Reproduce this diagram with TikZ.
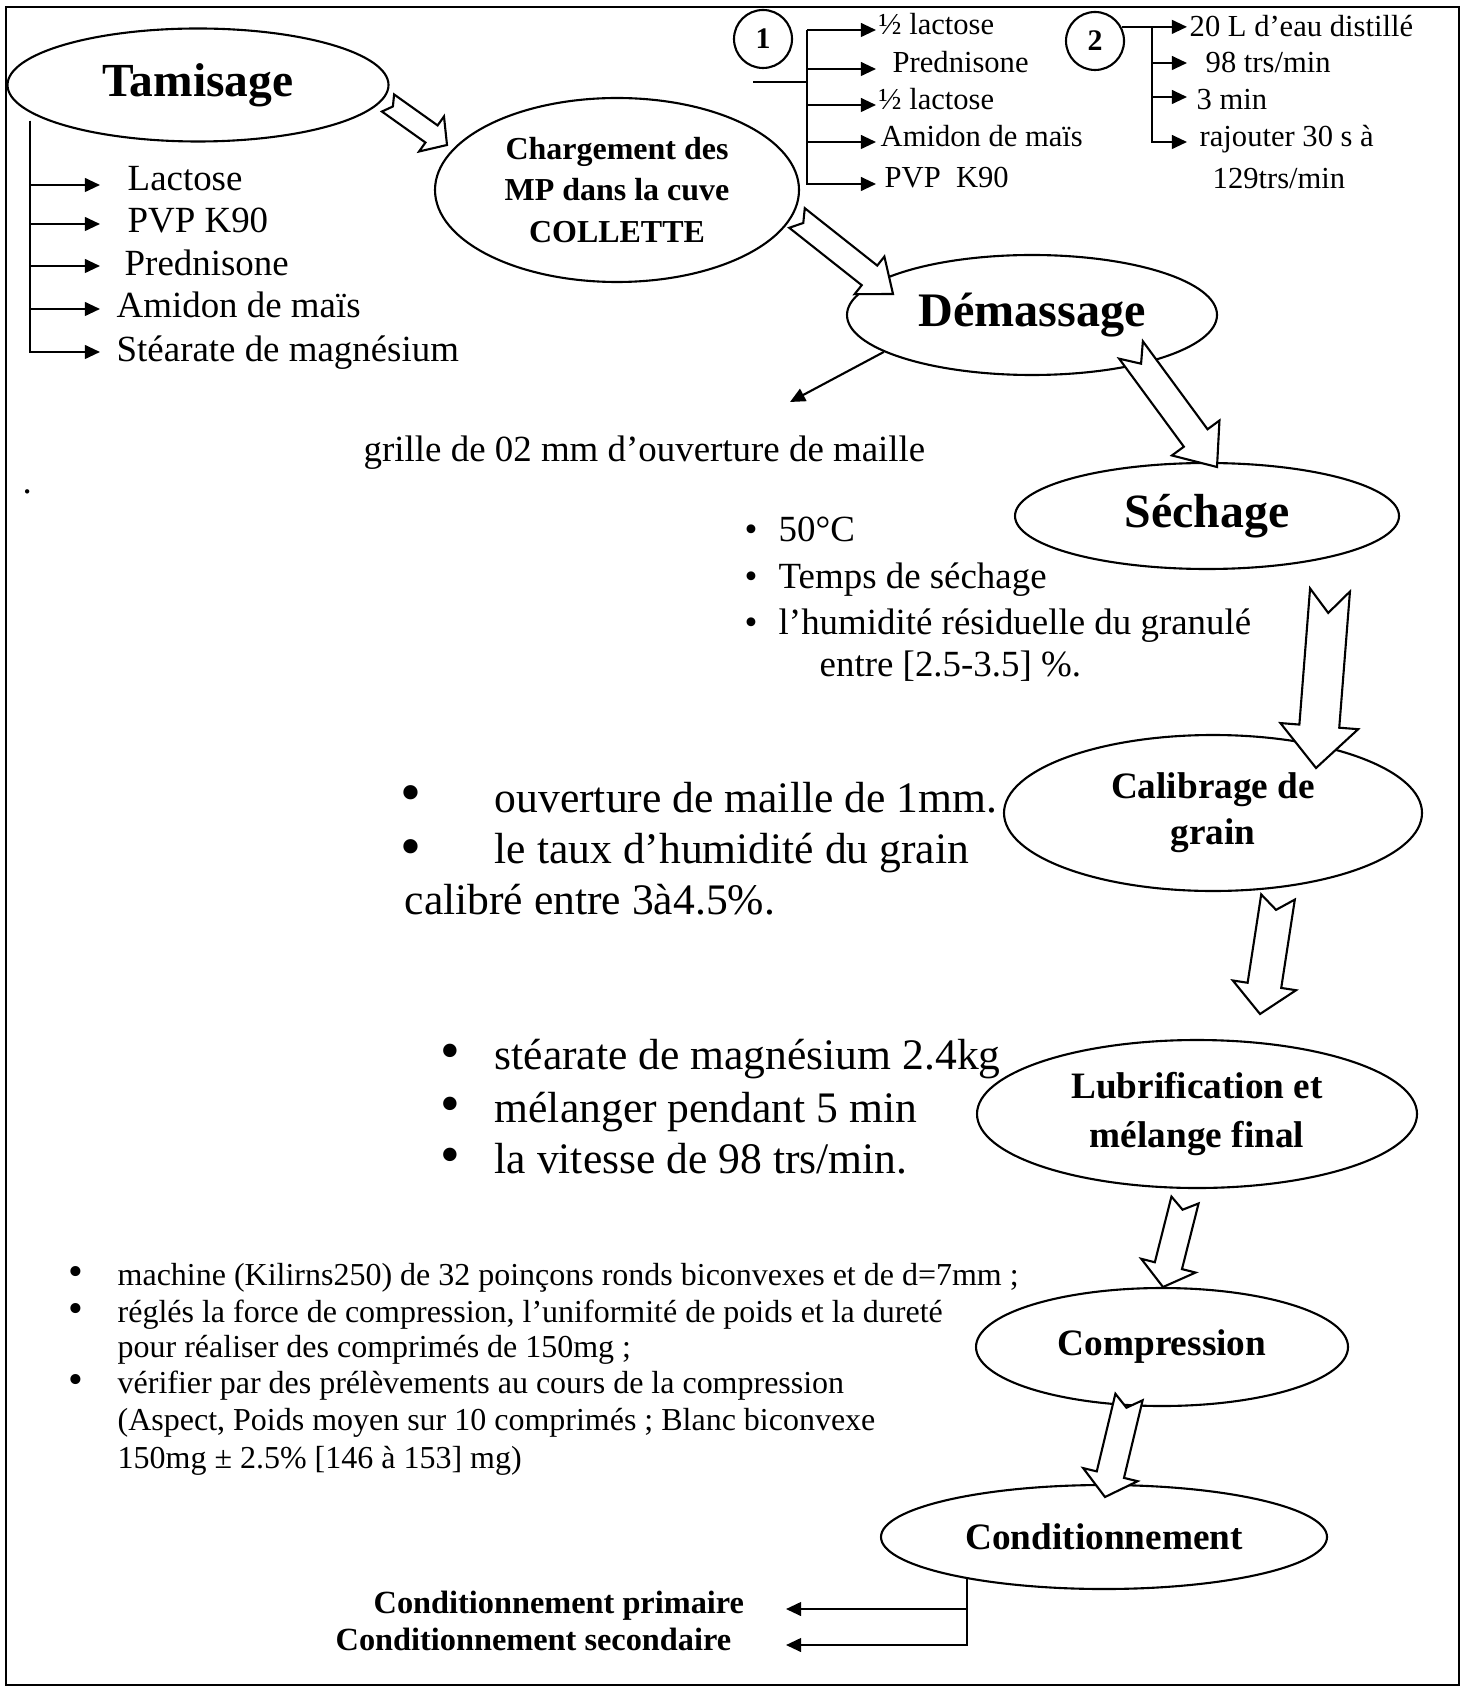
\documentclass[tikz,border=0pt]{standalone}
\usepackage{fontspec}
\setmainfont{Liberation Serif}
\usetikzlibrary{shapes.geometric,arrows.meta,calc}
\tikzset{
  etape/.style={ellipse, draw, line width=0.6pt, inner sep=0pt, align=center},
  puce/.style={anchor=base west, inner sep=0pt},
  haut/.style={font=\fontsize{8.7}{10.4}\selectfont},
  petit/.style={font=\fontsize{9.1}{10.9}\selectfont},
  moyen/.style={font=\fontsize{10.5}{12.6}\selectfont},
  grand/.style={font=\fontsize{12.4}{14.8}\selectfont},
  fleche/.style={line width=0.6pt, -{Triangle[length=4.3pt,width=3.9pt]}},
  gros/.style n args={4}{draw, line width=0.6pt, fill=white, to path={
    let \p1=(\tikztostart), \p2=(\tikztotarget), \n1={atan2(\y2-\y1,\x2-\x1)} in
    ($(\p1)+({\n1+90}:#1)$) -- ($(\p1)+({\n1}:#4)$) -- ($(\p1)+({\n1-90}:#1)$)
    -- ($(\p2)+({\n1}:-#3)+({\n1-90}:#1)$) -- ($(\p2)+({\n1}:-#3)+({\n1-90}:#2)$)
    -- (\p2)
    -- ($(\p2)+({\n1}:-#3)+({\n1+90}:#2)$) -- ($(\p2)+({\n1}:-#3)+({\n1+90}:#1)$)
    -- cycle}}
}
\begin{document}
\begin{tikzpicture}[x=0.1mm, y=-0.1mm]
  \useasboundingbox (0,0) rectangle (1465,1688);
  \draw[line width=0.8pt] (6,7) rectangle (1459,1685);

  \node[etape, minimum width=38.1mm, minimum height=11.3mm, font=\bfseries\fontsize{13.5}{16}\selectfont] (tam) at (198,85) {Tamisage};
  \node[etape, minimum width=36.4mm, minimum height=18.4mm, font=\bfseries\fontsize{9.1}{11.8}\selectfont] (chg) at (617,190) {Chargement des\\MP dans la cuve\\COLLETTE};
  \node[etape, minimum width=37mm, minimum height=12mm, font=\bfseries\fontsize{13.7}{16}\selectfont] (dem) at (1032,315) {Démassage};
  \node[etape, minimum width=38.4mm, minimum height=10.6mm, font=\bfseries\fontsize{13.6}{16}\selectfont] (sec) at (1207,516) {Séchage};
  \node[etape, minimum width=41.8mm, minimum height=15.6mm, font=\bfseries\fontsize{10.6}{13.1}\selectfont] (cal) at (1213,813) {Calibrage de\\grain};
  \node[etape, minimum width=44mm, minimum height=14.8mm, font=\bfseries\fontsize{10.6}{13.7}\selectfont] (lub) at (1197,1114) {Lubrification et\\mélange final};
  \node[etape, minimum width=37.2mm, minimum height=11.8mm, font=\bfseries\fontsize{10.6}{13}\selectfont] (cmp) at (1162,1347) {Compression};
  \node[etape, minimum width=44.6mm, minimum height=10.4mm, font=\bfseries\fontsize{10.6}{13}\selectfont] (cnd) at (1104,1537) {Conditionnement};

  \coordinate (tamR) at (30,121);
  \foreach \y/\n in {185/1,224/2,266/3,309/4,352/5}
    \coordinate (tamF\n) at (100,\y);
  \foreach \n in {1,...,5}
    \draw[fleche] (tamR) |- (tamF\n);
  \node[puce, moyen] (lac) at (127,191) {Lactose};
  \node[puce, moyen] (pvp) at (127,233) {PVP K90};
  \node[puce, moyen] (pred) at (124,276) {Prednisone};
  \node[puce, moyen] (ami) at (116,318) {Amidon de maïs};
  \node[puce, moyen] (stea) at (116,362) {Stéarate de magnésium};

  \node[draw, circle, line width=0.6pt, minimum size=5.8mm, inner sep=0pt, font=\bfseries\fontsize{8.5}{10}\selectfont] (c1) at (763,39) {1};
  \node[draw, circle, line width=0.6pt, minimum size=5.8mm, inner sep=0pt, font=\bfseries\fontsize{8.5}{10}\selectfont] (c2) at (1095,41) {2};

  \coordinate (r1) at (807,30);
  \coordinate (s1) at (753,82);
  \foreach \y/\n in {30/1,69/2,105/3,142/4,184/5}
    \coordinate (unF\n) at (876,\y);
  \foreach \n in {1,...,5}
    \draw[fleche] (r1) |- (unF\n);
  \draw[line width=0.6pt] (s1) -- (s1 -| r1);
  \node[puce, haut] (un1) at (878,35) {½ lactose};
  \node[puce, haut] (un2) at (892,73) {Prednisone};
  \node[puce, haut] (un3) at (878,110) {½ lactose};
  \node[puce, haut] (un4) at (880,147) {Amidon de maïs};
  \node[puce, haut] (un5) at (884,188) {PVP\ \ K90};

  \coordinate (r2) at (1152,27);
  \foreach \y/\n in {27/1,63/2,97/3,142/4}
    \coordinate (deF\n) at (1187,\y);
  \draw[fleche] (c2.28) -- (c2.28 -| deF1);
  \foreach \n in {2,3,4}
    \draw[fleche] (r2) |- (deF\n);
  \node[puce, haut] (de1) at (1189,37) {20 L d’eau distillé};
  \node[puce, haut] (de2) at (1205,73) {98 trs/min};
  \node[puce, haut] (de3) at (1196,110) {3 min};
  \node[puce, haut] (de4) at (1199,147) {rajouter 30 s à};
  \node[puce, haut] (de5) at (1212,189) {129trs/min};

  \coordinate (gr) at (790,402);
  \draw[fleche] (dem.194) -- (gr);
  \node[puce, moyen] (grille) at (363,462) {grille de 02 mm d’ouverture de maille};
  \node[puce, moyen] (pt) at (22,494) {.};

  \foreach \y [count=\i] in {542,588,634}
    \node[puce, moyen] (secB\i) at (744,\y) {•};
  \node[puce, moyen] (sec1) at (778,542) {50°C};
  \node[puce, moyen] (sec2) at (778,588) {Temps de séchage};
  \node[puce, moyen] (sec3) at (778,634) {l’humidité résiduelle du granulé};
  \node[puce, moyen] (sec4) at (819,676) {entre [2.5-3.5] \%.};

  \foreach \y [count=\i] in {812,866}
    \node[puce, font=\fontsize{17}{17}\selectfont] (calB\i) at (400,\y) {•};
  \node[puce, grand] (cal1) at (494,812) {ouverture de maille de 1mm.};
  \node[puce, grand] (cal2) at (494,863) {le taux d’humidité du grain};
  \node[puce, grand] (cal3) at (404,914) {calibré entre 3à4.5\%.};

  \foreach \y [count=\i] in {1069,1122,1173}
    \node[puce, font=\fontsize{16}{16}\selectfont] (lubB\i) at (440,\y) {•};
  \node[puce, grand] (lub1) at (494,1069) {stéarate de magnésium 2.4kg};
  \node[puce, grand] (lub2) at (494,1122) {mélanger pendant 5 min};
  \node[puce, grand] (lub3) at (494,1173) {la vitesse de 98 trs/min.};

  \foreach \y [count=\i] in {1285,1322,1393}
    \node[puce, font=\fontsize{12}{12}\selectfont] (cmpB\i) at (68,\y) {•};
  \node[puce, petit] (cmp1) at (117,1285) {machine (Kilirns250) de 32 poinçons ronds biconvexes et de d=7mm ;};
  \node[puce, petit] (cmp2) at (117,1322) {réglés la force de compression, l’uniformité de poids et la dureté};
  \node[puce, petit] (cmp3) at (117,1357) {pour réaliser des comprimés de 150mg ;};
  \node[puce, petit] (cmp4) at (117,1393) {vérifier par des prélèvements au cours de la compression};
  \node[puce, petit] (cmp5) at (117,1430) {(Aspect, Poids moyen sur 10 comprimés ; Blanc biconvexe};
  \node[puce, petit] (cmp6) at (117,1468) {150mg ± 2.5\% [146 à 153] mg)};

  \coordinate (prim) at (786,1609);
  \coordinate (seco) at (786,1645);
  \draw[fleche] (cnd.197) |- (prim);
  \draw[fleche] (cnd.197) |- (seco);
  \node[puce, font=\bfseries\fontsize{9.2}{11}\selectfont] (cprim) at (373,1613) {Conditionnement primaire};
  \node[puce, font=\bfseries\fontsize{9.2}{11}\selectfont] (cseco) at (335,1650) {Conditionnement secondaire};

  \coordinate (g1a) at (388,103);   \coordinate (g1b) at (447,145);
  \coordinate (g2a) at (797,218);   \coordinate (g2b) at (893,294);
  \coordinate (g3a) at (1131,350);  \coordinate (g3b) at (1217,467);
  \coordinate (g4a) at (1330,590);  \coordinate (g4b) at (1316,768);
  \coordinate (g5a) at (1278,897);  \coordinate (g5b) at (1260,1014);
  \coordinate (g6a) at (1185,1200); \coordinate (g6b) at (1163,1287);
  \coordinate (g7a) at (1129,1397); \coordinate (g7b) at (1105,1497);
  \draw[gros={1.05mm}{2.15mm}{1.9mm}{0.6mm}] (g1a) to (g1b);
  \draw[gros={1.25mm}{2.4mm}{3mm}{0.8mm}] (g2a) to (g2b);
  \draw[gros={1.47mm}{2.95mm}{3.6mm}{1.7mm}] (g3a) to (g3b);
  \draw[gros={2mm}{3.9mm}{4.2mm}{2.3mm}] (g4a) to (g4b);
  \draw[gros={1.7mm}{3.2mm}{2.9mm}{1.3mm}] (g5a) to (g5b);
  \draw[gros={1.4mm}{2.8mm}{2.2mm}{1mm}] (g6a) to (g6b);
  \draw[gros={1.4mm}{2.8mm}{2.3mm}{1.1mm}] (g7a) to (g7b);
\end{tikzpicture}
\end{document}
